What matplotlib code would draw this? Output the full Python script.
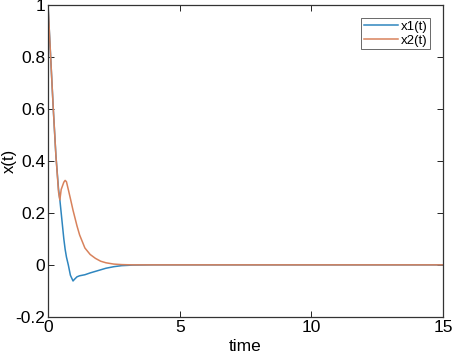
import numpy as np
import matplotlib.pyplot as plt

# значения
t = [0, 0.1, 0.2, 0.3, 0.4, 0.45, 0.5, 0.6, 0.65, 0.7, 0.77, 0.85, 0.95, 1.0, 1.1, 1.2,
     1.4, 1.6, 1.8, 2.0, 2.2, 2.5, 2.8, 3.2, 4, 5, 7, 10, 15]
x1 = [1.0, 0.8, 0.6, 0.42, 0.29, 0.25, 0.2, 0.1, 0.06, 0.03, 0.0, -0.04, -0.062, -0.056,
      -0.046, -0.042, -0.038, -0.031, -0.025, -0.019, -0.013, -0.007, -0.003, -0.001,
      0, 0, 0, 0, 0]
x2 = [1.0, 0.8, 0.6, 0.42, 0.28, 0.25, 0.29, 0.318, 0.325, 0.32, 0.29, 0.255, 0.21, 0.19,
      0.15, 0.115, 0.065, 0.04, 0.025, 0.014, 0.008, 0.003, 0.001, 0,
      0, 0, 0, 0, 0]
series_labels = ['x1(t)', 'x2(t)']
xticks = [0, 5, 10, 15]
yticks = [-0.2, 0, 0.2, 0.4, 0.6, 0.8, 1]

plt.rcParams['font.family'] = ['Liberation Sans', 'DejaVu Sans']

fig = plt.figure(figsize=(4.53, 3.56), dpi=100)
ax = fig.add_axes([0.106, 0.11, 0.872, 0.876])

ax.plot(t, x1, color='#2f86bf', lw=1.1, label=series_labels[0])
ax.plot(t, x2, color='#d8825c', lw=1.1, label=series_labels[1])

ax.set_xlim(0, 15)
ax.set_ylim(-0.2, 1)
ax.set_xticks(xticks)
ax.set_yticks(yticks)
ax.set_yticklabels(['-0.2', '0', '0.2', '0.4', '0.6', '0.8', '1'])
ax.tick_params(direction='in', top=True, right=True, labelsize=12.5, length=4, width=0.6, pad=2)
for s in ax.spines.values():
    s.set_linewidth(0.9)
    s.set_color('#333333')
ax.set_xlabel('time', fontsize=12.5, labelpad=3)
ax.set_ylabel('x(t)', fontsize=12)
ax.yaxis.set_label_coords(-0.078, 0.5)

leg = ax.legend(loc='upper right', fontsize=9.5, frameon=True, fancybox=False, edgecolor='#262626',
                handlelength=2.6, handletextpad=0.2, borderpad=0.2, labelspacing=0.1,
                borderaxespad=1.0)
leg.get_frame().set_linewidth(0.6)

fig.savefig('out.png', dpi=100)
